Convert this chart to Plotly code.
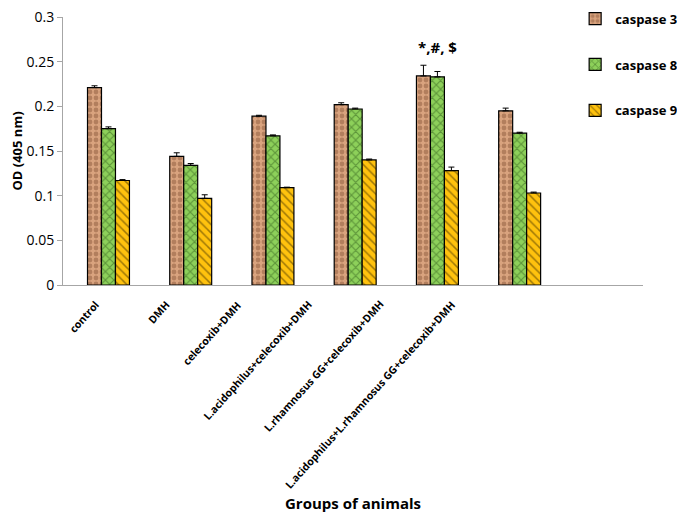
import plotly.graph_objects as go

groups = ["control", "DMH", "celecoxib+DMH", "L.acidophilus+celecoxib+DMH",
          "L.rhamnosus GG+celecoxib+DMH", "L.acidophilus+L.rhamnosus GG+celecoxib+DMH", " "]
casp3 = [0.221, 0.144, 0.189, 0.202, 0.234, 0.195, None]
casp3_err = [0.002, 0.004, 0.001, 0.002, 0.012, 0.003, None]
casp8 = [0.175, 0.134, 0.167, 0.197, 0.233, 0.170, None]
casp8_err = [0.002, 0.002, 0.001, 0.001, 0.006, 0.001, None]
casp9 = [0.117, 0.097, 0.109, 0.140, 0.128, 0.103, None]
casp9_err = [0.001, 0.004, 0.0005, 0.001, 0.004, 0.001, None]
yticks = [0, 0.05, 0.1, 0.15, 0.2, 0.25, 0.3]
ytick_text = ["0", "0.05", "0.1", "0.15", "0.2", "0.25", "0.3"]

FONT = "Open Sans"

series = [
    ("caspase 3", casp3, casp3_err, "#D9A37E", ".", "#8B5A3C", 0.5),
    ("caspase 8", casp8, casp8_err, "#8DD05A", "x", "#2E5A1A", 0.35),
    ("caspase 9", casp9, casp9_err, "#FFC20E", "\\", "#3a2a00", 0.25),
]

fig = go.Figure()
for i, (name, vals, errs, col, shape, fg, sol) in enumerate(series):
    fig.add_trace(go.Bar(
        name=name, x=groups, y=vals,
        marker=dict(color=col, line=dict(color="black", width=1.2),
                    pattern=dict(shape=shape, fgcolor=fg, size=6, solidity=sol)),
        error_y=dict(type="data", array=errs, arrayminus=[0] * len(errs),
                     color="black", thickness=1, width=3),
        legendgroup=name,
    ))

fig.add_annotation(x=groups[4], y=0.266, text="<b>*,#, $</b>", showarrow=False,
                   font=dict(family=FONT, size=15, color="black"))

# rotated category labels (Excel-style drift to the left)
for i, g in enumerate(groups[:6]):
    fig.add_annotation(x=g, y=0, xref="x", yref="y", text="<b>" + g + "</b>",
                       showarrow=False, textangle=-48, xanchor="right", yanchor="top",
                       xshift=-(4 + 11 * i), yshift=-10,
                       font=dict(family=FONT, size=10.5, color="black"))

# page body adds an 8px offset; the figure is sized to fill the rest of the window
fig.update_layout(
    width=677, height=505,
    margin=dict(l=55, r=42, t=9, b=228, autoexpand=False),
    plot_bgcolor="white", paper_bgcolor="white",
    barmode="group", bargap=0.49, bargroupgap=0.0,
    font=dict(family=FONT, color="black"),
    legend=dict(x=0.883, y=1.05, xanchor="left", yanchor="top",
                font=dict(family=FONT, size=13, color="black", weight="bold"),
                tracegroupgap=26, bgcolor="rgba(0,0,0,0)", itemwidth=30),
    xaxis=dict(showline=True, linecolor="#A6A6A6", linewidth=1,
               ticks="", showticklabels=False,
               title=dict(text="<b>Groups of animals</b>", font=dict(family=FONT, size=15),
                          standoff=215),
               showgrid=False, automargin=False),
    yaxis=dict(range=[0, 0.3], tickvals=yticks, ticktext=ytick_text,
               showline=True, linecolor="#A6A6A6", linewidth=1,
               ticks="outside", ticklen=5, tickcolor="#A6A6A6",
               tickfont=dict(family=FONT, size=14, color="black"),
               ticklabeloverflow="allow",
               title=dict(text="<b>OD (405 nm)</b>", font=dict(family=FONT, size=13), standoff=8),
               showgrid=False, zeroline=False, automargin=False),
)

fig.write_html("out.html")
